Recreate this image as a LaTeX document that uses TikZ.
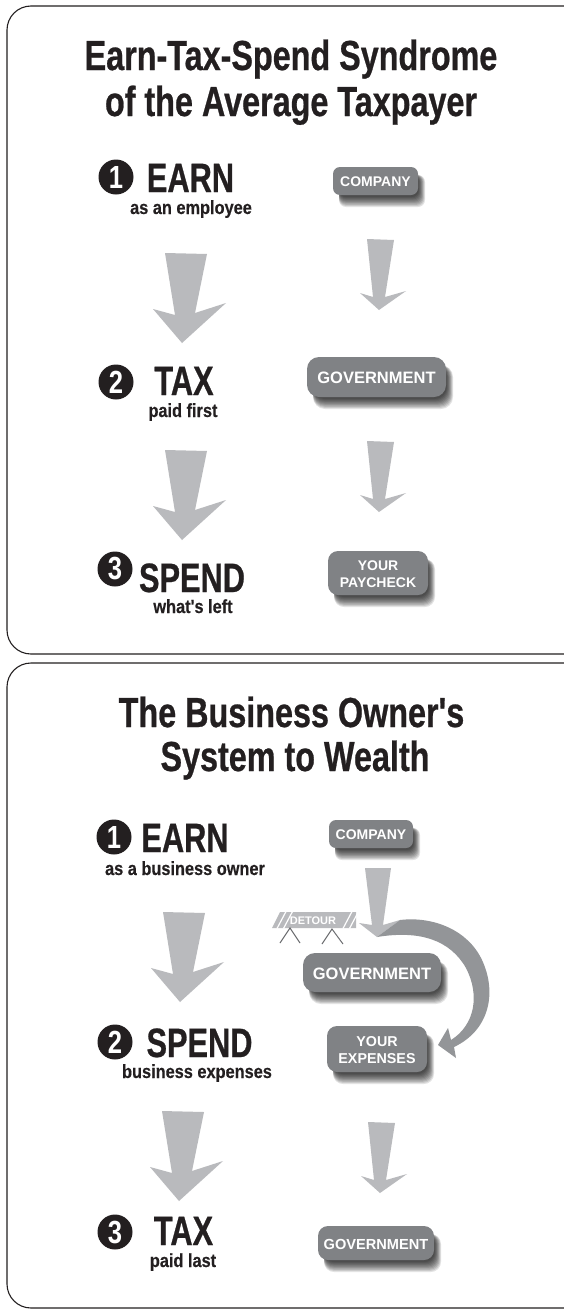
\documentclass[tikz,border=0pt]{standalone}
\usepackage{fontspec}
\setmainfont{Liberation Sans}
\newfontfamily\condt[FakeStretch=0.77,FakeBold=0.6]{Liberation Sans Bold}
\newfontfamily\cond[FakeStretch=0.75,FakeBold=0.6]{Liberation Sans Bold}
\newfontfamily\condd[FakeStretch=0.80]{Liberation Sans Bold}
\newfontfamily\condm[FakeStretch=0.86,FakeBold=0.3]{Liberation Sans Bold}
\definecolor{ink}{HTML}{231F20}
\definecolor{arrowgrey}{HTML}{B9BABD}
\definecolor{curvegrey}{HTML}{939598}
\definecolor{boxgrey}{HTML}{808285}
\definecolor{leggrey}{HTML}{6D6E71}
\tikzset{
  panel/.style={draw=ink,line width=1.1pt,rounded corners=24pt},
  bigtitle/.style={anchor=base,inner sep=0pt,text=ink,align=center,font=\condt\fontsize{42}{42}\selectfont},
  headword/.style={anchor=base,inner sep=0pt,text=ink,font=\cond\fontsize{41}{41}\selectfont},
  subword/.style={anchor=base,inner sep=0pt,text=ink,font=\condm\fontsize{19}{19}\selectfont},
  numdisc/.style={circle,fill=ink,text=white,inner sep=0pt,minimum size=35pt,font=\condd\fontsize{32}{32}\selectfont},
  blockfill/.style={fill=arrowgrey},
  boxtext/.style={text=white,align=center,font=\bfseries},
}
% name, x1, y1, x2, y2, radius, font size, text
\newcommand{\softbox}[8]{%
  \foreach \k in {0,1,...,9}{
    \fill[black,opacity=0.11,rounded corners=#6 pt]
      ({#2+6},{#3+8}) rectangle ({#4+7-\k*0.7},{#5+12-\k*1.1});
  }
  \fill[boxgrey,rounded corners=#6 pt] (#2,#3) rectangle (#4,#5);
  \node[boxtext,inner sep=0pt,font=\bfseries\fontsize{#7}{17}\selectfont] (#1) at ({(#2+#4)/2},{(#3+#5)/2+1}) {#8};
}
\newcommand{\bigarrow}[2]{\fill[blockfill,shift={(#1,#2)}]
  (165,253)--(207,254)--(195,313)--(226,303)--(182,343)--(153,309)--(175,315)--cycle;}
\newcommand{\smallarrow}[2]{\fill[blockfill,shift={(#1,#2)}]
  (367,239)--(394,240)--(385,297)--(406,291)--(379,310)--(360,293)--(373,297)--cycle;}
\begin{document}
\begin{tikzpicture}[x=1pt,y=-1pt]
\useasboundingbox (0,0) rectangle (564,1309);
\clip (0,0) rectangle (564,1309);
\fill[white] (0,0) rectangle (564,1309);
\draw[panel] (7,6) rectangle (590,654);
\draw[panel] (7,663) rectangle (590,1308);

% top panel
\node[bigtitle] (t1) at (291,70) {Earn-Tax-Spend Syndrome};
\node[bigtitle] (t2) at (291,116) {of the Average Taxpayer};
\node[numdisc] (n1) at (116,177) {1};
\node[headword] (h1) at (190.5,192) {EARN};
\node[subword] (s1) at (191,214) {as an employee};
\bigarrow{0}{0}
\node[numdisc] (n2) at (116,382) {2};
\node[headword] (h2) at (184,395) {TAX};
\node[subword] (s2) at (183,417) {paid first};
\bigarrow{0}{197}
\node[numdisc] (n3) at (115,569) {3};
\node[headword] (h3) at (192,592) {SPEND};
\node[subword] (s3) at (193,613) {what's left};
\softbox{c1}{333}{167}{418}{195}{7}{14}{COMPANY}
\smallarrow{0}{0}
\softbox{g1}{307}{357}{446}{397}{12}{16.5}{GOVERNMENT}
\smallarrow{0}{202}
\softbox{p1}{328}{551}{428}{595}{10}{14}{YOUR\\PAYCHECK}

% bottom panel
\node[bigtitle] (t3) at (291.5,727) {The Business Owner's};
\node[bigtitle] (t4) at (295,771) {System to Wealth};
\node[numdisc] (n4) at (114,837) {1};
\node[headword] (h4) at (185,852) {EARN};
\node[subword] (s4) at (185,875) {as a business owner};
\bigarrow{-2}{659}
\node[numdisc] (n5) at (115,1042) {2};
\node[headword] (h5) at (199.5,1057) {SPEND};
\node[subword] (s5) at (197,1078) {business expenses};
\bigarrow{-3}{858}
\node[numdisc] (n6) at (115,1232) {3};
\node[headword] (h6) at (183.5,1245) {TAX};
\node[subword] (s6) at (183,1267) {paid last};

\softbox{c2}{329}{820}{413}{848}{7}{14}{COMPANY}
\softbox{g2}{303}{953}{441}{992}{12}{16.5}{GOVERNMENT}
\softbox{e2}{327}{1026}{427}{1072}{10}{14.3}{YOUR\\EXPENSES}
\softbox{g3}{318}{1226}{434}{1260}{10}{14.6}{GOVERNMENT}

% detour barrier
\fill[arrowgrey] (272,928) -- (280,912) -- (356,912) -- (356,928) -- cycle;
\foreach \a in {0,6.5}{
  \draw[white,line width=1.2pt] ({277+\a},928.5) -- ({286+\a},911.5);
  \draw[white,line width=1.2pt] ({343+\a},928.5) -- ({352+\a},911.5);
}
\node[text=white,inner sep=0pt,font=\bfseries\fontsize{11}{11}\selectfont] (d1) at (313,920.5) {DETOUR};
\draw[leggrey,line width=1pt] (280,943) -- (290,928) -- (300,943);
\draw[leggrey,line width=1pt] (322,944) -- (332,929) -- (343,944);

% big arrow with curved detour
\fill[blockfill] (365,868)--(391,868)--(383,925)--(400,920)--(377,937)--(359,923)--(372,925)--cycle;
\fill[curvegrey] (400,920) .. controls (433,916) and (468,930) .. (482,960)
  .. controls (497,992) and (490,1030) .. (454,1047)
  -- (456,1058) -- (438,1045) -- (448,1028) -- (451,1040)
  .. controls (475,1025) and (480,995) .. (466,968)
  .. controls (450,940) and (420,930) .. (377,937) -- cycle;
\smallarrow{1}{883}
\end{tikzpicture}
\end{document}
